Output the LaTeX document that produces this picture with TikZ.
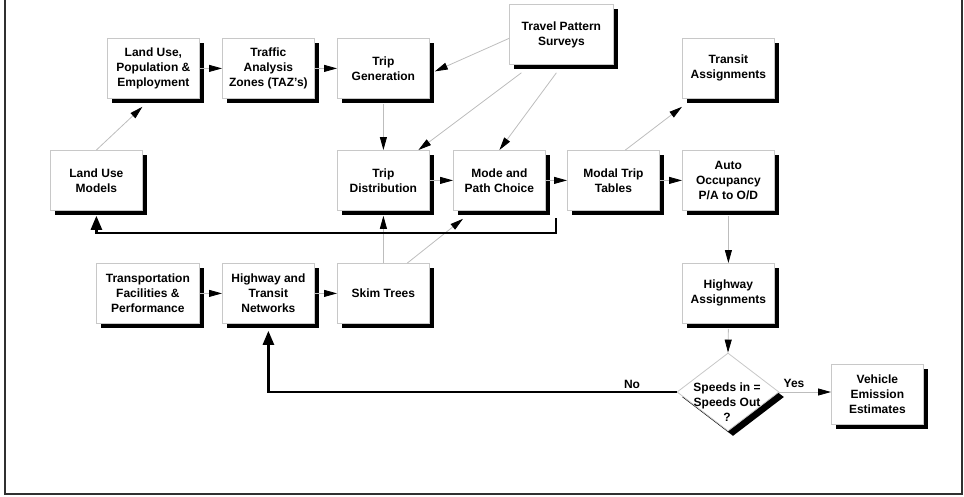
\documentclass[tikz,border=0pt]{standalone}
\usepackage{fontspec}
\setmainfont{Liberation Sans}
\usetikzlibrary{arrows.meta,shapes.geometric,shadows}

\definecolor{boxgray}{HTML}{C8C8C8}
\definecolor{linegray}{HTML}{BDBDBD}
\definecolor{framegray}{HTML}{303030}

\begin{document}
\begin{tikzpicture}[x=1pt,y=-1pt,
  labelfont/.style={font=\bfseries\fontsize{12}{15}\selectfont},
  box/.style={rectangle, draw=boxgray, line width=0.8pt, fill=white,
    anchor=north west, minimum width=92pt, minimum height=60pt,
    inner sep=0pt, align=center, labelfont,
    general shadow={fill=black, shadow xshift=5pt, shadow yshift=-5pt}},
  decision/.style={diamond, draw=boxgray, line width=0.8pt, fill=white,
    minimum width=102pt, minimum height=78pt, inner sep=0pt,
    general shadow={fill=black, shadow xshift=5pt, shadow yshift=-5pt}},
  link/.style={draw=linegray, line width=0.8pt,
    -{Triangle[length=13pt,width=7pt,color=black]}},
  loop/.style={draw=black, line width=2.5pt, line join=miter,
    -{Triangle[length=14pt,width=11pt]}},
  tag/.style={labelfont, inner sep=0pt}]

% canvas and open-topped frame
\useasboundingbox (0,0) rectangle (964,496);
\draw[framegray, line width=2pt] (5,0) -- (5,494) -- (962,494) -- (962,0);

% boxes
\node[box] (lup)   at (107,38)  {Land Use,\\Population \&\\Employment};
\node[box] (taz)   at (222,38)  {Traffic\\Analysis\\Zones (TAZ's)};
\node[box] (tgen)  at (337,38)  {Trip\\Generation};
\node[box, minimum width=104pt] (tps) at (509,4) {Travel Pattern\\Surveys};
\node[box] (tra)   at (682,38)  {Transit\\Assignments};
\node[box] (lum)   at (50,150)  {Land Use\\Models};
\node[box] (tdist) at (337,150) {Trip\\Distribution};
\node[box] (mode)  at (453,150) {Mode and\\Path Choice};
\node[box] (modal) at (567,150) {Modal Trip\\Tables};
\node[box] (auto)  at (682,150) {Auto\\Occupancy\\P/A to O/D};
\node[box, minimum width=103pt] (tfp) at (96,263) {Transportation\\Facilities \&\\Performance};
\node[box] (hwn)   at (222,263) {Highway and\\Transit\\Networks};
\node[box] (skim)  at (337,263) {Skim Trees};
\node[box] (hwa)   at (682,263) {Highway\\Assignments};
\node[box] (veh)   at (831,364) {Vehicle\\Emission\\Estimates};

% convergence test
\node[decision] (dia) at (728,392) {};
\node[tag, align=center] (diatext) at (727,402.5) {Speeds in =\\Speeds Out\\?};

% thin flow links
\draw[link] (lum.north) -- ([xshift=-11pt,yshift=-8pt]lup.south);
\draw[link] (lup.east) -- (taz.west);
\draw[link] (taz.east) -- (tgen.west);
\draw[link] ([yshift=-4pt]tps.west) -- ([xshift=5pt,yshift=-3pt]tgen.east);
\draw[link] ([xshift=-40pt,yshift=-8pt]tps.south) -- ([xshift=35pt]tdist.north);
\draw[link] ([xshift=-5pt,yshift=-8pt]tps.south) -- (mode.north);
\draw[link] ([yshift=-5pt]tgen.south) -- (tdist.north);
\draw[link] (tdist.east) -- (mode.west);
\draw[link] (mode.east) -- (modal.west);
\draw[link] ([xshift=12pt]modal.north) -- ([yshift=-8pt]tra.south west);
\draw[link] (modal.east) -- (auto.west);
\draw[link] ([yshift=-5pt]auto.south) -- (hwa.north);
\draw[link] ([yshift=-5pt]hwa.south) -- (dia.north);
\draw[link] (tfp.east) -- (hwn.west);
\draw[link] (hwn.east) -- (skim.west);
\draw[link] (skim.north) -- ([yshift=-5pt]tdist.south);
\draw[link] ([xshift=24pt]skim.north) -- ([xshift=10pt,yshift=-8pt]mode.south west);
\draw[link] (dia.east) -- (dia.east -| veh.west);

% heavy feedback loops
\coordinate (back) at (556,218);
\draw[loop] (back) -- (556,233) -| ([yshift=-5pt]lum.south);
\draw[loop] (dia.west) -| ([yshift=-7pt]hwn.south);

% branch labels
\node[tag] (no)  at (632,384) {No};
\node[tag] (yes) at (794,383) {Yes};
\end{tikzpicture}
\end{document}
